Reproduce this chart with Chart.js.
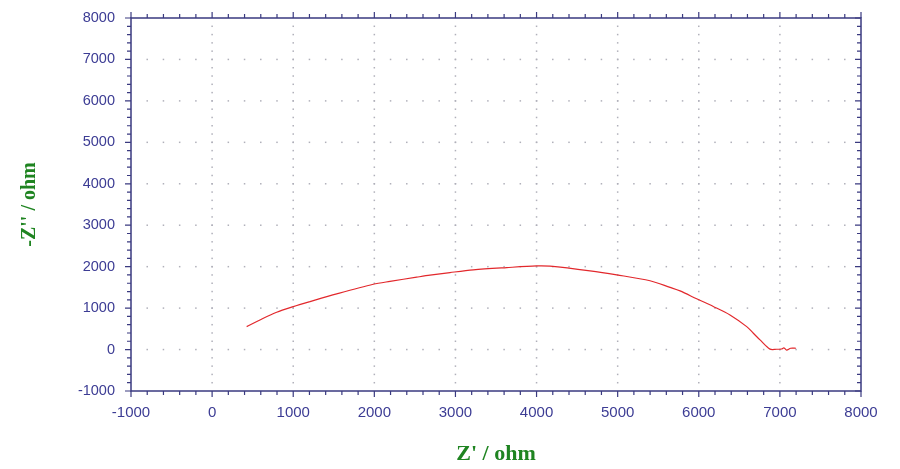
<!DOCTYPE html>
<html>
<head>
<meta charset="utf-8">
<script src="https://cdn.jsdelivr.net/npm/chart.js@4"></script>
<style>
  html, body { margin: 0; padding: 0; background: #fff; }
  #wrap { width: 900px; height: 469px; }
</style>
</head>
<body>
<div id="wrap"><canvas id="canvas"></canvas></div>
<script>
// Nyquist data
let zReal = [426, 590, 796, 1001, 1207, 1536, 1987, 2193, 2522, 2686, 2933, 3220, 3632, 4002, 4166, 4659, 4988, 5399, 5646, 5769, 5974, 6179, 6385, 6591, 6673, 6755, 6878, 6960, 7021, 7050, 7083, 7132, 7198];
let zImag = [553, 715, 901, 1036, 1157, 1343, 1575, 1645, 1746, 1795, 1858, 1923, 1978, 2019, 2012, 1899, 1802, 1660, 1500, 1415, 1225, 1040, 836, 553, 394, 232, 10, 7, 14, 40, -12, 31, 31];
let ticksX = [-1000, 0, 1000, 2000, 3000, 4000, 5000, 6000, 7000, 8000];
let ticksY = [-1000, 0, 1000, 2000, 3000, 4000, 5000, 6000, 7000, 8000];

const axisColor = '#3a3a80';
const labelColor = '#3c3c94';
const titleColor = '#1f8421';

let points = zReal.map(function(x, i){
    return {x: x, y: zImag[i]};
});

// frame, minor ticks and dotted grid
const framePlugin = {
    id: 'frame',
    beforeDatasetsDraw(chart) {
        const ctx = chart.ctx;
        const xs = chart.scales.x, ys = chart.scales.y;
        ctx.save();
        ctx.fillStyle = '#b0b0ba';
        // horizontal dotted lines
        ticksY.slice(1, -1).forEach(function(v){
            let py = ys.getPixelForValue(v);
            for (let u = -800; u < 8000; u += 200) {
                let px = xs.getPixelForValue(u);
                ctx.fillRect(px - 0.75, py - 0.75, 1.5, 1.5);
            }
        });
        // vertical dotted lines
        ticksX.slice(1, -1).forEach(function(v){
            let px = xs.getPixelForValue(v);
            for (let u = -800; u < 8000; u += 200) {
                let py = ys.getPixelForValue(u);
                ctx.fillRect(px - 0.75, py - 0.75, 1.5, 1.5);
            }
        });
        ctx.restore();
    },
    afterDraw(chart) {
        const ctx = chart.ctx;
        const xs = chart.scales.x, ys = chart.scales.y;
        const a = chart.chartArea;
        ctx.save();
        ctx.strokeStyle = axisColor;
        ctx.lineWidth = 1.5;
        ctx.strokeRect(a.left, a.top, a.right - a.left, a.bottom - a.top);
        ctx.lineWidth = 1.2;
        ctx.beginPath();
        for (let v = -1000; v <= 8000; v += 200) {
            let major = v % 1000 === 0;
            let len = major ? 6 : 4;
            let px = xs.getPixelForValue(v);
            ctx.moveTo(px, a.bottom); ctx.lineTo(px, a.bottom + len);
            ctx.moveTo(px, a.top); ctx.lineTo(px, a.top - len);
            let py = ys.getPixelForValue(v);
            ctx.moveTo(a.left, py); ctx.lineTo(a.left - len, py);
            ctx.moveTo(a.right, py); ctx.lineTo(a.right - len, py);
        }
        ctx.stroke();
        ctx.restore();
    }
};

const ctx = document.getElementById('canvas').getContext('2d');
const myChart = new Chart(ctx, {
    type: 'scatter',
    data: {
        datasets: [{
            data: points,
            showLine: true,
            borderColor: 'rgb(226, 40, 44)',
            borderWidth: 1.2,
            pointRadius: 0,
            tension: 0.3
        }]
    },
    options: {
        responsive: true,
        maintainAspectRatio: false,
        animation: false,
        layout: {
            padding: {top: 18, right: 39, left: 0, bottom: 0}
        },
        plugins: {
            legend: {display: false},
            tooltip: {enabled: false}
        },
        scales: {
            x: {
                type: 'linear',
                min: -1000,
                max: 8000,
                afterBuildTicks: function(scale){
                    scale.ticks = ticksX.map(function(v){ return {value: v}; });
                },
                afterFit: function(scale){
                    scale.height = 78;
                    scale.paddingLeft = 0;
                    scale.paddingRight = 0;
                },
                grid: {display: false, drawTicks: false},
                border: {display: false},
                ticks: {
                    color: labelColor,
                    padding: 13,
                    maxRotation: 0,
                    autoSkip: false,
                    callback: function(v){ return String(v); },
                    font: {family: 'Liberation Sans, Arial', size: 15}
                },
                title: {
                    display: true,
                    text: "Z' / ohm",
                    color: titleColor,
                    padding: {top: 0, bottom: 1},
                    font: {family: 'Liberation Serif, Times New Roman', size: 22, weight: 'bold'}
                }
            },
            y: {
                type: 'linear',
                min: -1000,
                max: 8000,
                afterBuildTicks: function(scale){
                    scale.ticks = ticksY.map(function(v){ return {value: v}; });
                },
                afterFit: function(scale){
                    scale.width = 131;
                    scale.paddingTop = 0;
                    scale.paddingBottom = 0;
                },
                grid: {display: false, drawTicks: false},
                border: {display: false},
                ticks: {
                    color: labelColor,
                    padding: 16,
                    autoSkip: false,
                    callback: function(v){ return String(v); },
                    font: {family: 'Liberation Sans, Arial', size: 14.5}
                },
                title: {
                    display: true,
                    text: "-Z'' / ohm",
                    color: titleColor,
                    padding: {top: 18, bottom: 0},
                    font: {family: 'Liberation Serif, Times New Roman', size: 20, weight: 'bold'}
                }
            }
        }
    },
    plugins: [framePlugin]
});
</script>
</body>
</html>
